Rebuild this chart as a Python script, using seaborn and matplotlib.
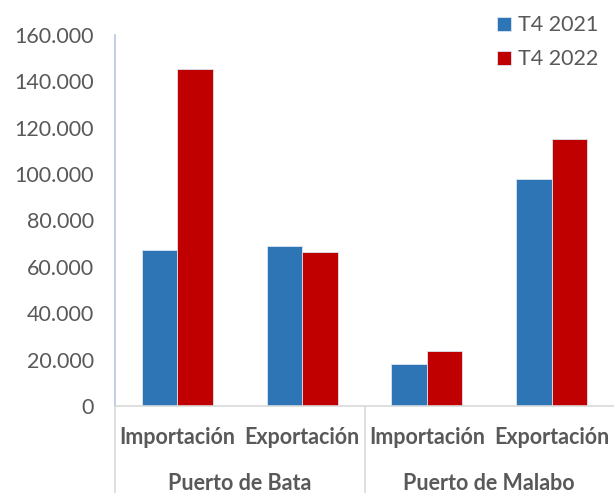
import matplotlib
matplotlib.use("Agg")
import matplotlib.pyplot as plt
import matplotlib.transforms as mtransforms
import seaborn as sns
import pandas as pd
from matplotlib.ticker import FuncFormatter

categories = ["Importación", "Exportación", "Importación", "Exportación"]
groups = ["Puerto de Bata", "Puerto de Malabo"]
series = ["T4 2021", "T4 2022"]
values_2021 = [67200, 69100, 17900, 97700]
values_2022 = [145300, 66200, 23600, 115000]
colors = ["#2E75B6", "#C00000"]

slots = list(range(len(categories)))
df = pd.DataFrame({
    "slot": slots * 2,
    "serie": [series[0]] * 4 + [series[1]] * 4,
    "valor": values_2021 + values_2022,
})

sns.set_style("white")
plt.rcParams['font.family'] = ['Lato', 'DejaVu Sans']

fig = plt.figure(figsize=(6.14, 4.93), dpi=100)
ax = fig.add_axes([115 / 614, 87 / 493, 1 - 115 / 614, (406 - 35) / 493])

sns.barplot(data=df, x="slot", y="valor", hue="serie", order=slots,
            hue_order=series, palette=colors, width=0.57, gap=0,
            saturation=1, ax=ax, edgecolor="#dbe5f1", linewidth=0.6)

ax.set_ylim(0, 160000)
ax.set_xlim(-0.5, 3.5)
ax.set_yticks(range(0, 160001, 20000))
ax.yaxis.set_major_formatter(FuncFormatter(lambda v, p: f"{int(v):,}".replace(",", ".")))
ax.tick_params(axis="y", labelsize=15.5, colors="#595959", length=0, pad=15)
ax.tick_params(axis="x", length=0)
ax.set_xticks(slots)
ax.set_xticklabels([])
ax.set_xlabel("")
ax.set_ylabel("")

for s in ["top", "right"]:
    ax.spines[s].set_visible(False)
ax.spines["left"].set_color("#b4c7e7")
ax.spines["left"].set_linewidth(1.2)
ax.spines["bottom"].set_color("#d9d9d9")
ax.spines["bottom"].set_linewidth(1.2)

trans = mtransforms.blended_transform_factory(ax.transData, ax.transAxes)
for i, c in enumerate(categories):
    ax.text(i, -0.085, c, transform=trans, ha="center", va="center",
            fontsize=15.5, fontweight="bold", color="#595959")
for g, name in enumerate(groups):
    ax.text(g * 2 + 0.5, -0.21, name, transform=trans, ha="center", va="center",
            fontsize=15.5, fontweight="bold", color="#595959")
for xsep in [-0.5, 1.5]:
    ax.plot([xsep, xsep], [0, -0.25], transform=trans, color="#d9d9d9",
            lw=1.2, clip_on=False)

leg = ax.legend(loc="upper right", bbox_to_anchor=(0.995, 0.995), bbox_transform=fig.transFigure,
                frameon=False, fontsize=15.5, handlelength=0.65, handleheight=0.65,
                handletextpad=0.3, labelspacing=0.65, borderaxespad=0.2)
for t in leg.get_texts():
    t.set_color("#595959")

fig.savefig("out.png", dpi=100)
